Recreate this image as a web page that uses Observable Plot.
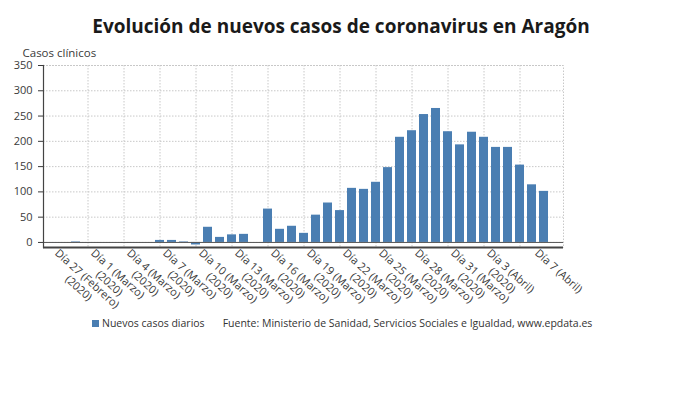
<!DOCTYPE html>
<html>
<head>
<meta charset="utf-8">
<script src="https://cdn.jsdelivr.net/npm/d3@7"></script>
<script src="https://cdn.jsdelivr.net/npm/@observablehq/plot@0.6"></script>
<style>
  body { margin: 0; background: #fff; }
  #wrap { position: relative; width: 690px; height: 406px; font-family: "Open Sans", sans-serif; }
  #title { position: absolute; left: -4px; top: 13.5px; width: 690px; text-align: center; font-weight: 700; font-size: 19px; line-height: 24px; color: #1a1a1a; }
  #chart { position: absolute; left: 0; top: 40px; }
  #legend { position: absolute; left: 92px; top: 315.5px; font-size: 10.5px; line-height: 14px; color: #333; white-space: nowrap; }
  #legend .sw { display: inline-block; width: 7px; height: 7px; margin-right: 3px; vertical-align: 0px; }
</style>
</head>
<body>
<div id="wrap">
  <div id="title">Evolución de nuevos casos de coronavirus en Aragón</div>
  <div id="chart"></div>
  <div id="legend"></div>
</div>
<script>
// ---- data ----
const startDay = "2020-02-27";
const endDay = "2020-04-07";
const days = d3.utcDay.range(new Date(startDay), d3.utcDay.offset(new Date(endDay), 1)).map(d => d3.utcFormat("%Y-%m-%d")(d));
const values = [
  0, 1, 0,                                   // Feb 27-29
  0, 0, 0, 0, 0, 4, 4, 1, -5, 30,            // Mar 1-10
  10, 15, 16, 0, 66, 26, 32, 18, 54, 78,     // Mar 11-20
  63, 107, 105, 119, 148, 208, 221, 253, 265, 219, 193, // Mar 21-31
  218, 208, 188, 188, 153, 114, 101          // Apr 1-7
];
const tickDays = ["2020-02-27","2020-03-01","2020-03-04","2020-03-07","2020-03-10","2020-03-13","2020-03-16","2020-03-19","2020-03-22","2020-03-25","2020-03-28","2020-03-31","2020-04-03","2020-04-07"];
const tickLine1 = ["Día 27 (Febrero)","Día 1 (Marzo)","Día 4 (Marzo)","Día 7 (Marzo)","Día 10 (Marzo)","Día 13 (Marzo)","Día 16 (Marzo)","Día 19 (Marzo)","Día 22 (Marzo)","Día 25 (Marzo)","Día 28 (Marzo)","Día 31 (Marzo)","Día 3 (Abril)","Día 7 (Abril)"];
const tickLine2 = ["(2020)","(2020)","(2020)","(2020)","(2020)","(2020)","(2020)","(2020)","(2020)","(2020)","(2020)","(2020)","(2020)",""];
const gridDays = ["2020-03-01","2020-03-04","2020-03-07","2020-03-10","2020-03-13","2020-03-16","2020-03-19","2020-03-22","2020-03-25","2020-03-28","2020-03-31","2020-04-03","2020-04-06"];
const yTicks = [0, 50, 100, 150, 200, 250, 300, 350];
const yLabel = "Casos clínicos";
const seriesName = "Nuevos casos diarios";
const source = "Fuente: Ministerio de Sanidad, Servicios Sociales e Igualdad, www.epdata.es";
const barColor = "#4a7eb2";

const data = days.map((d, i) => ({day: d, value: values[i]}));
const ticks = tickDays.map((d, i) => ({day: d, l1: tickLine1[i], l2: tickLine2[i]}));

// ---- label geometry ----
const fontSize = 11;
const angle = 42;
const rad = angle * Math.PI / 180;
const ctx = document.createElement("canvas").getContext("2d");
ctx.font = `${fontSize}px "Open Sans"`;
const dx1 = -7.5, dy1 = 4, lh = 12.5;

const line2Marks = ticks.filter(t => t.l2).map(t => {
  const L = ctx.measureText(t.l1).width;
  return Plot.text([t], {
    x: "day", text: "l2", frameAnchor: "bottom", rotate: angle,
    textAnchor: "middle", lineAnchor: "middle",
    dx: dx1 + (L / 2) * Math.cos(rad) - lh * Math.sin(rad),
    dy: dy1 + (L / 2) * Math.sin(rad) + lh * Math.cos(rad),
    fill: "#3a3a3a", fontSize
  });
});

const chart = Plot.plot({
  width: 690,
  height: 270,
  marginLeft: 43,
  marginRight: 127,
  marginTop: 25,
  marginBottom: 63,
  style: {fontFamily: "Open Sans", fontSize: "11px", color: "#3a3a3a", background: "transparent"},
  x: {type: "band", domain: days, paddingInner: 0.26, paddingOuter: 0.97, axis: null},
  y: {domain: [-10, 350], axis: null},
  marks: [
    Plot.gridY(yTicks, {stroke: "#c8c8c8", strokeOpacity: 1, strokeDasharray: "1.5,1.5"}),
    Plot.ruleX(gridDays, {x: d => d, dx: -12, stroke: "#c8c8c8", strokeDasharray: "1.5,1.5"}),
    Plot.frame({stroke: "#c8c8c8", strokeDasharray: "1.5,1.5"}),
    Plot.barY(data, {x: "day", y: "value", fill: barColor}),
    Plot.ruleY([0], {stroke: "#555", strokeWidth: 1}),
    Plot.ruleY([-10], {stroke: "#444", strokeWidth: 2}),
    Plot.frame({anchor: "left", stroke: "#444", strokeWidth: 1.2}),
    Plot.axisY(yTicks, {label: null, tickSize: 5, tickPadding: 6, fontSize: 11, color: "#3a3a3a"}),
    Plot.text([yLabel], {frameAnchor: "top-left", textAnchor: "start", lineAnchor: "middle", dx: -21, dy: -12.5, fill: "#3a3a3a", fontSize: 11.5}),
    Plot.text(ticks, {x: "day", text: "l1", frameAnchor: "bottom", rotate: angle, textAnchor: "start", lineAnchor: "middle", dx: dx1, dy: dy1, fill: "#3a3a3a", fontSize}),
    ...line2Marks
  ]
});
document.getElementById("chart").appendChild(chart);

const lg = document.getElementById("legend");
lg.innerHTML = `<span class="sw" style="background:${barColor}"></span>${seriesName}<span style="display:inline-block;width:18px"></span>${source}`;
</script>
</body>
</html>
